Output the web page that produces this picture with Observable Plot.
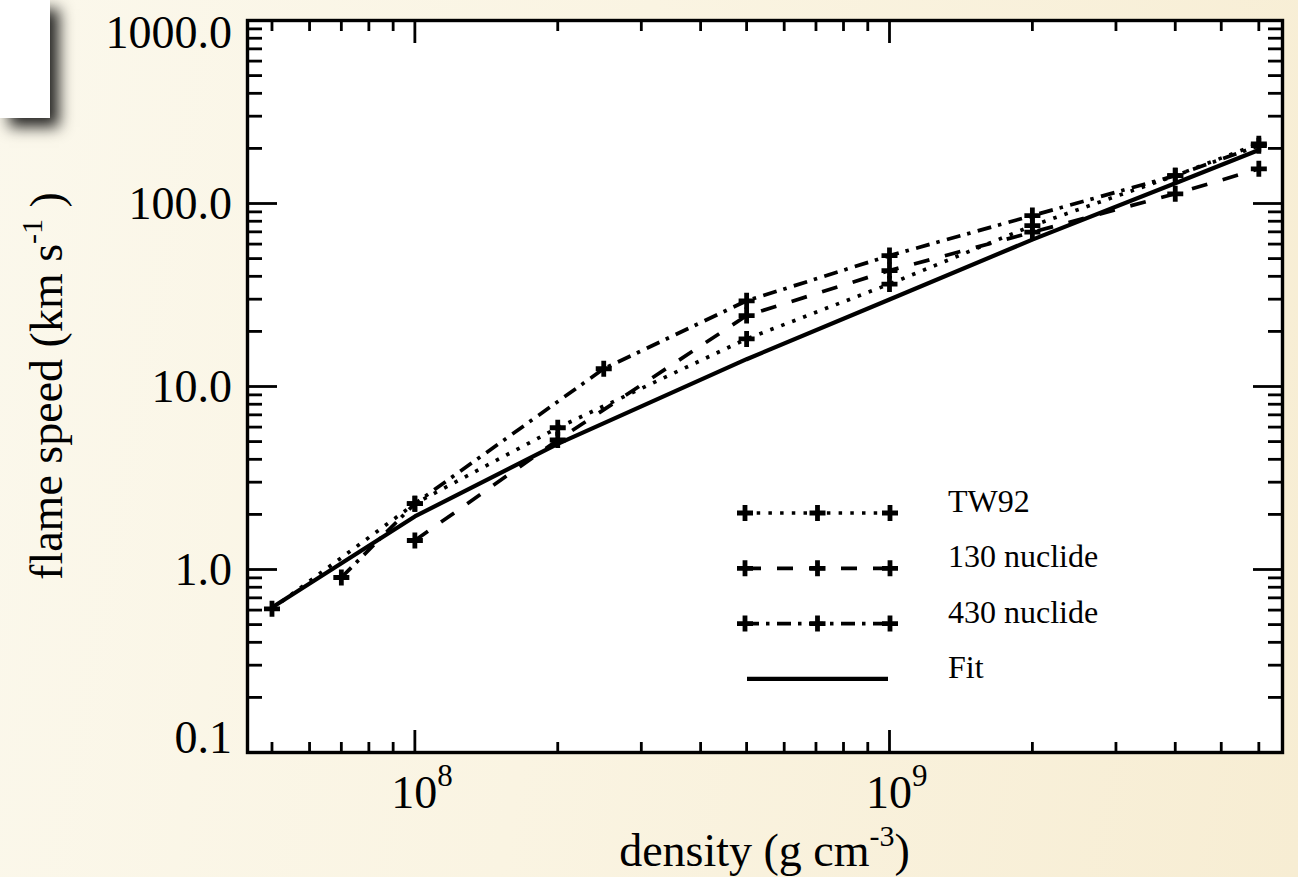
<!DOCTYPE html>
<html><head><meta charset="utf-8">
<script src="https://cdn.jsdelivr.net/npm/d3@7"></script>
<script src="https://cdn.jsdelivr.net/npm/@observablehq/plot@0.6"></script>
<style>
html,body{margin:0;padding:0;width:1298px;height:877px;overflow:hidden;}
body{background:linear-gradient(100deg,#fbf8ec 0%,#faf4e2 45%,#f7edd3 100%);position:relative;font-family:"Liberation Serif",serif;}
#box{position:absolute;left:0;top:0;width:50px;height:118px;background:#fff;box-shadow:9px 9px 14px rgba(0,0,0,0.85);}
#chart{position:absolute;left:0;top:0;}
</style></head>
<body><div id="box"></div><div id="chart"></div>
<script>
// ---- data ----
const tw92Density = [5e7, 1e8, 2e8, 5e8, 1e9, 2e9, 4e9, 6e9];
const tw92Speed   = [0.61, 2.29, 5.95, 18.2, 36.3, 75.7, 142, 212];
const n130Density = [1e8, 2e8, 5e8, 1e9, 2e9, 4e9, 6e9];
const n130Speed   = [1.44, 5.1, 24.4, 43, 69.7, 113, 154.6];
const n430Density = [7e7, 1e8, 2.5e8, 5e8, 1e9, 2e9, 4e9, 6e9];
const n430Speed   = [0.904, 2.29, 12.5, 29.4, 51.9, 85.9, 142, 207];
const fitDensity  = [5e7, 1e8, 2e8, 5e8, 1e9, 2e9, 4e9, 6e9];
const fitSpeed    = [0.62, 1.95, 4.86, 14.1, 29.9, 63.5, 129, 196];
const seriesNames = ["TW92", "130 nuclide", "430 nuclide", "Fit"];
const seriesDash  = ["3.5,8.2", "16,16", "14,7,3.5,7.5", null];
const seriesMarks = [true, true, true, false];
const yTickValues = [0.1, 1, 10, 100, 1000];
const yTickLabels = ["0.1", "1.0", "10.0", "100.0", "1000.0"];
const xTickValues = [1e8, 1e9];
const xTickBase = "10";
const xTickExponents = ["8", "9"];
const xDomain = [4.44e7, 6.73e9];
const yDomain = [0.1, 1000];
const xTitle = ["density (g cm", "-3", ")"];
const yTitle = ["flame speed (km s", "-1", ")"];

const mult = [2,3,4,5,6,7,8,9];
const xMinor = [1e7,1e8,1e9].flatMap(d => mult.map(m => m*d)).filter(v => v > xDomain[0] && v < xDomain[1]);
const yMinor = [0.1,1,10,100].flatMap(d => mult.map(m => m*d));

const toRows = (xs, ys) => xs.map((x, i) => ({x, y: ys[i]}));
const seriesData = [toRows(tw92Density, tw92Speed), toRows(n130Density, n130Speed), toRows(n430Density, n430Speed), toRows(fitDensity, fitSpeed)];

const plusSymbol = {draw(ctx, size){ const r = Math.sqrt(size/Math.PI); ctx.moveTo(-r,0); ctx.lineTo(r,0); ctx.moveTo(0,-r); ctx.lineTo(0,r); }};

const W = 1298, H = 877, mL = 247, mR = 16, mT = 20, mB = 125;
const tickW = 2.8;
const lineW = 3.7, fitW = 4.2, plusR = 8, plusW = 4.8;
const noText = {fill: "none", tickFormat: () => "", label: null, strokeWidth: tickW, strokeLinecap: "butt"};

const lineMarks = seriesData.map((d, i) => Plot.line(d, {x: "x", y: "y", stroke: "black", strokeWidth: i === 3 ? fitW : lineW, strokeDasharray: seriesDash[i], strokeLinecap: "butt", strokeLinejoin: "miter"}));
const dotMarks = seriesData.filter((d, i) => seriesMarks[i]).map(d => Plot.dot(d, {x: "x", y: "y", r: plusR, symbol: plusSymbol, fill: "none", stroke: "black", strokeWidth: plusW, strokeLinecap: "butt"}));

const plot = Plot.plot({
  width: W, height: H, marginLeft: mL, marginRight: mR, marginTop: mT, marginBottom: mB,
  style: {background: "transparent", overflow: "visible"},
  x: {type: "log", domain: xDomain, axis: null},
  y: {type: "log", domain: yDomain, axis: null},
  marks: [
    Plot.frame({fill: "white", stroke: null}),
    Plot.axisY(yTickValues, {anchor: "left", tickSize: -30, ...noText}),
    Plot.axisY(yMinor, {anchor: "left", tickSize: -15, ...noText}),
    Plot.axisY(yTickValues, {anchor: "right", tickSize: -30, ...noText}),
    Plot.axisY(yMinor, {anchor: "right", tickSize: -15, ...noText}),
    Plot.axisX(xTickValues, {anchor: "bottom", tickSize: -22, ...noText}),
    Plot.axisX(xMinor, {anchor: "bottom", tickSize: -10, ...noText}),
    Plot.axisX(xTickValues, {anchor: "top", tickSize: -22, ...noText}),
    Plot.axisX(xMinor, {anchor: "top", tickSize: -10, ...noText}),
    ...lineMarks,
    ...dotMarks,
    Plot.frame({stroke: "black", strokeWidth: 3.4, fill: "none"})
  ]
});
document.getElementById("chart").appendChild(plot);

const svg = d3.select(plot);
const sx = plot.scale("x"), sy = plot.scale("y");
const font = "'Liberation Serif', 'Times New Roman', serif";
const g = svg.append("g").attr("font-family", font).attr("fill", "black").attr("text-anchor", "start");

// y tick labels
yTickValues.forEach((v, i) => {
  let off = 16;
  if (i === 0) off = 1;
  if (i === yTickValues.length - 1) off = 28;
  g.append("text").attr("x", mL - 15).attr("y", sy.apply(v) + off)
    .attr("text-anchor", "end").attr("font-size", 46).text(yTickLabels[i]);
});
// x tick labels
xTickValues.forEach((v, i) => {
  const px = sx.apply(v);
  g.append("text").attr("x", px).attr("y", H - mB + 56).attr("text-anchor", "middle").attr("font-size", 46).text(xTickBase);
  g.append("text").attr("x", px + 23).attr("y", H - mB + 34).attr("text-anchor", "start").attr("font-size", 31).text(xTickExponents[i]);
});
// x title
const xt = g.append("text").attr("x", (mL + W - mR) / 2).attr("y", H - 11).attr("text-anchor", "middle").attr("font-size", 46);
xt.append("tspan").text(xTitle[0]);
xt.append("tspan").attr("font-size", 30).attr("dy", -20).text(xTitle[1]);
xt.append("tspan").attr("dy", 20).text(xTitle[2]);
// y title
const yt = g.append("text").attr("transform", `translate(62,${(mT + H - mB) / 2}) rotate(-90)`).attr("text-anchor", "middle").attr("font-size", 46);
yt.append("tspan").text(yTitle[0]);
yt.append("tspan").attr("font-size", 30).attr("dy", -20).text(yTitle[1]);
yt.append("tspan").attr("dy", 20).text(" " + yTitle[2]);

// legend
const legX0 = 745, legX1 = 890, legY0 = 513, legDY = 55.3, legText = 948;
seriesNames.forEach((name, i) => {
  const yy = legY0 + i * legDY;
  if (seriesMarks[i]) {
    g.append("line").attr("x1", legX0).attr("x2", legX1).attr("y1", yy).attr("y2", yy)
      .attr("stroke", "black").attr("stroke-width", lineW).attr("stroke-dasharray", seriesDash[i] || null);
    [legX0, (legX0 + legX1) / 2, legX1].forEach(cx => {
      g.append("path").attr("d", `M${cx - plusR},${yy}H${cx + plusR}M${cx},${yy - plusR}V${yy + plusR}`)
        .attr("stroke", "black").attr("stroke-width", plusW).attr("fill", "none");
    });
  } else {
    g.append("line").attr("x1", legX0 + 2).attr("x2", legX1 - 2).attr("y1", yy).attr("y2", yy)
      .attr("stroke", "black").attr("stroke-width", fitW);
  }
  g.append("text").attr("x", legText).attr("y", yy - 1).attr("text-anchor", "start").attr("font-size", 32).text(name);
});
</script>
</body></html>
